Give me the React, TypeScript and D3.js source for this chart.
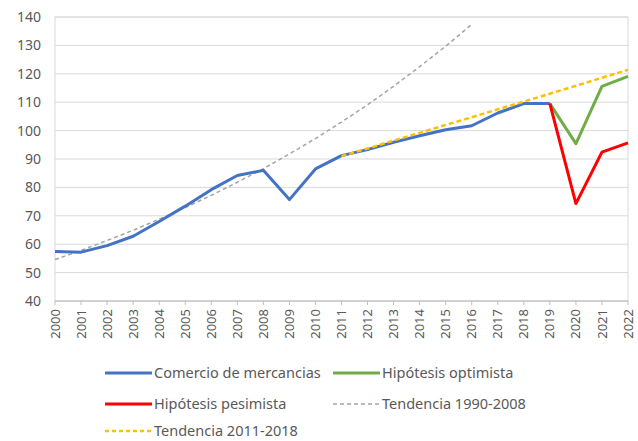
import React from "react";
import * as d3 from "d3";

const years = d3.range(2000, 2023);
const yTicks = [40, 50, 60, 70, 80, 90, 100, 110, 120, 130, 140];

// Comercio de mercancias 2000-2019
const comercio = [57.4, 57.2, 59.5, 62.8, 68.0, 73.4, 79.2, 84.2, 86.0, 75.7, 86.5, 91.2, 93.3, 95.9, 98.2, 100.3, 101.7, 106.2, 109.5, 109.5];
// 2019-2022
const optimista = [109.5, 95.4, 115.6, 119.1];
const pesimista = [109.5, 74.3, 92.4, 95.7];
// 2000-2016
const tendencia9008 = [54.6, 57.8, 61.3, 64.9, 68.8, 72.9, 77.2, 81.8, 86.6, 91.8, 97.2, 103.0, 109.1, 115.6, 122.5, 129.7, 137.4];
// 2011-2022
const tendencia1118 = [91.0, 93.7, 96.5, 99.2, 102.0, 104.7, 107.5, 110.2, 113.0, 115.8, 118.6, 121.4];

const W = 638;
const H = 441;
const m = { left: 55, right: 628, top: 17, bottom: 301 };
const font = "'Noto Sans', 'Open Sans', sans-serif";
const textColor = "#595959";

const App = () => {
  const x = d3.scaleLinear().domain([2000, 2022]).range([m.left, m.right]);
  const y = d3.scaleLinear().domain([40, 140]).range([m.bottom, m.top]);
  const line = d3
    .line<[number, number]>()
    .x(d => x(d[0]))
    .y(d => y(d[1]));

  const series = (vals: number[], start: number) =>
    line(vals.map((v, i) => [start + i, v] as [number, number]));

  const legend = [
    { label: "Comercio de mercancias", color: "#4472C4", dash: null, w: 3, lx: 105, ly: 373 },
    { label: "Hipótesis optimista", color: "#70AD47", dash: null, w: 3, lx: 333, ly: 373 },
    { label: "Hipótesis pesimista", color: "#FF0000", dash: null, w: 3, lx: 105, ly: 404 },
    { label: "Tendencia 1990-2008", color: "#A5A5A5", dash: "4,3", w: 1.5, lx: 333, ly: 404 },
    { label: "Tendencia 2011-2018", color: "#FFC000", dash: "4,3", w: 2.5, lx: 105, ly: 431 }
  ];

  return (
    <svg
      width={W}
      height={H}
      style={{ position: "absolute", left: 0, top: 0, background: "#fff" }}
      fontFamily={font}
    >
      {yTicks.map(t => (
        <g key={t}>
          <line x1={m.left} x2={m.right} y1={y(t)} y2={y(t)} stroke="#D9D9D9" strokeWidth={1} />
          <text x={41} y={y(t)} dy="0.35em" textAnchor="end" fontSize={14} fill={textColor}>
            {t}
          </text>
        </g>
      ))}
      <rect
        x={m.left}
        y={m.top}
        width={m.right - m.left}
        height={m.bottom - m.top}
        fill="none"
        stroke="#D9D9D9"
      />
      <line x1={m.left} x2={m.right} y1={m.bottom} y2={m.bottom} stroke="#BFBFBF" />
      {years.map(yr => (
        <g key={yr}>
          <line x1={x(yr)} x2={x(yr)} y1={m.bottom} y2={m.bottom + 4} stroke="#BFBFBF" />
          <text
            transform={`translate(${x(yr)},${m.bottom + 8}) rotate(-90)`}
            dy="0.35em"
            textAnchor="end"
            fontSize={13}
            fill={textColor}
          >
            {yr}
          </text>
        </g>
      ))}
      <path d={series(tendencia9008, 2000) || ""} fill="none" stroke="#A5A5A5" strokeWidth={1.5} strokeDasharray="4,3" />
      <path d={series(comercio, 2000) || ""} fill="none" stroke="#4472C4" strokeWidth={3} strokeLinejoin="round" />
      <path d={series(optimista, 2019) || ""} fill="none" stroke="#70AD47" strokeWidth={3} strokeLinejoin="round" />
      <path d={series(pesimista, 2019) || ""} fill="none" stroke="#FF0000" strokeWidth={3} strokeLinejoin="round" />
      <path d={series(tendencia1118, 2011) || ""} fill="none" stroke="#FFC000" strokeWidth={2.5} strokeDasharray="5,3" />
      {legend.map(l => (
        <g key={l.label}>
          <line
            x1={l.lx}
            x2={l.lx + 47}
            y1={l.ly}
            y2={l.ly}
            stroke={l.color}
            strokeWidth={l.w}
            strokeDasharray={l.dash || undefined}
          />
          <text x={l.lx + 49} y={l.ly} dy="0.35em" fontSize={14.5} fill={textColor}>
            {l.label}
          </text>
        </g>
      ))}
    </svg>
  );
};

export default App;
